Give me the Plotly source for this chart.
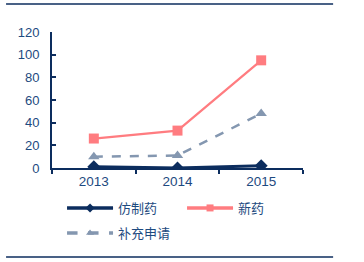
import plotly.graph_objects as go

years = ["2013", "2014", "2015"]
generic = [1, 0, 2]
new_drug = [26, 33, 95]
supplement = [10, 11, 48]
names = ["仿制药", "新药", "补充申请"]

navy = "#0c2d5e"
pink = "#ff7c80"
gray = "#8497b0"
txt = "#1d4a80"
font = "Liberation Sans, Arial, Noto Sans CJK SC, sans-serif"

series = [
    (names[0], generic, navy, 3, "solid", "diamond", 10, 3.5, 7, "legend"),
    (names[1], new_drug, pink, 2.2, "solid", "square", 10, 3.5, 7, "legend"),
    (names[2], supplement, gray, 2.5, "dash", "triangle-up", 10, 3.5, 7, "legend2"),
]

fig = go.Figure()
for name, vals, col, lw, dash, sym, ms, llw, lms, leg in series:
    fig.add_trace(go.Scatter(x=years, y=vals, name=name, mode="lines+markers",
                             line=dict(color=col, width=lw, dash=dash),
                             marker=dict(symbol=sym, size=ms, color=col),
                             showlegend=False))
for name, vals, col, lw, dash, sym, ms, llw, lms, leg in series:
    # legend-only entries with smaller symbols, as in the reference
    fig.add_trace(go.Scatter(x=[None], y=[None], name=name, mode="lines+markers",
                             line=dict(color=col, width=llw, dash=dash),
                             marker=dict(symbol=sym, size=lms, color=col),
                             legend=leg, showlegend=True))

leg_common = dict(orientation="h", xanchor="left", yanchor="middle",
                  entrywidth=59, entrywidthmode="pixels", itemwidth=46,
                  font=dict(size=13, color=txt), bgcolor="rgba(0,0,0,0)",
                  borderwidth=0)

fig.update_layout(
    width=364, height=262,
    margin=dict(l=52, r=61, t=32, b=94, autoexpand=False),
    paper_bgcolor="white", plot_bgcolor="white",
    font=dict(family=font, size=13, color=txt),
    showlegend=True,
    legend=dict(x=0.04, y=-0.294, **leg_common),
    legend2=dict(x=0.04, y=-0.478, **leg_common),
    xaxis=dict(type="category", range=[-0.5, 2.5], showgrid=False,
               showline=True, linecolor=navy, linewidth=2,
               ticks="outside", ticklen=4, tickcolor=navy, tickwidth=1.5,
               tickson="boundaries", tickfont=dict(size=13.5, color=txt)),
    yaxis=dict(range=[0, 120], dtick=20, showgrid=False, zeroline=False,
               showline=True, linecolor=navy, linewidth=2,
               ticks="inside", ticklen=4, tickcolor=navy, tickwidth=1.5,
               ticklabelstandoff=8, tickfont=dict(size=13, color=txt)),
    shapes=[
        dict(type="line", xref="paper", yref="paper", x0=-0.183, x1=1.12,
             y0=1.206, y1=1.206, line=dict(color=navy, width=1.5)),
        dict(type="line", xref="paper", yref="paper", x0=-0.183, x1=1.12,
             y0=-0.654, y1=-0.654, line=dict(color=navy, width=1.5)),
    ],
)

fig.write_html("out.html")
